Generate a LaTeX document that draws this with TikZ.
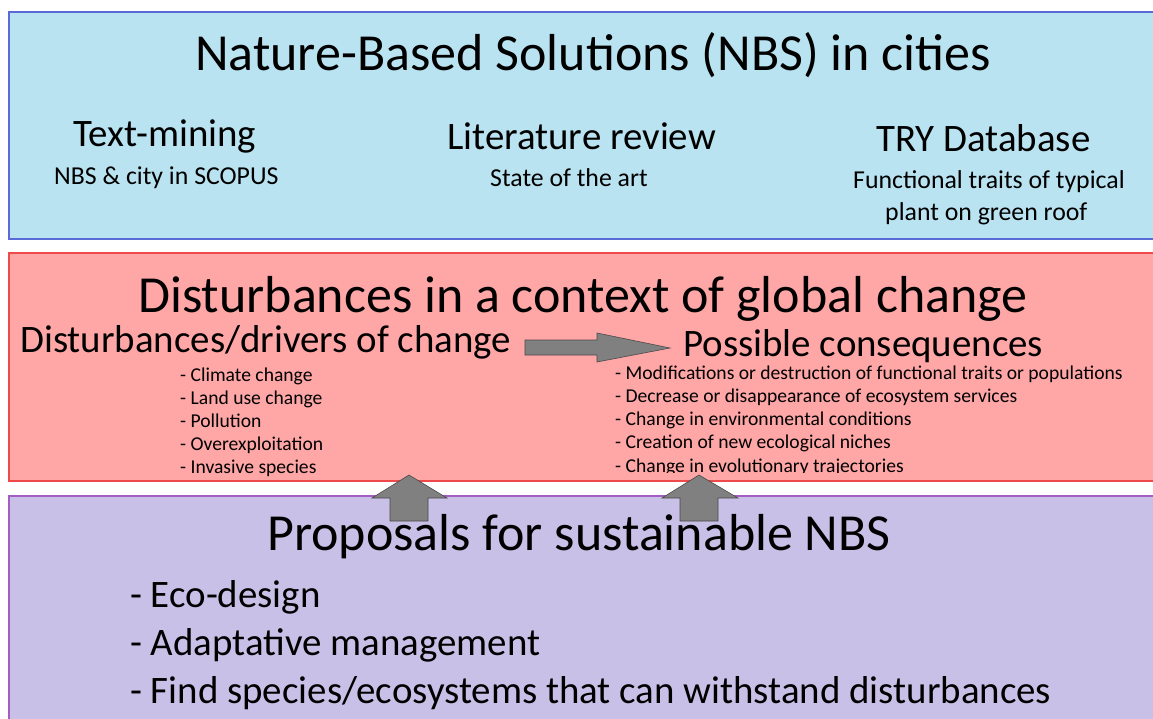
\documentclass[tikz,border=0pt]{standalone}
\usepackage{fontspec}
\setmainfont{Carlito}
\definecolor{bluefill}{HTML}{B9E3F0}
\definecolor{blueline}{HTML}{5A6BD8}
\definecolor{redfill}{HTML}{FFA6A6}
\definecolor{redline}{HTML}{EE4A4A}
\definecolor{purfill}{HTML}{C8C0E6}
\definecolor{purline}{HTML}{A45DC3}
\definecolor{arrfill}{HTML}{808080}
\definecolor{arrline}{HTML}{4A4A4A}
\newcommand{\fsz}[1]{\fontsize{#1}{#1}\selectfont}
\tikzset{
  panel/.style={line width=1.4pt},
  big/.style={inner sep=0pt, anchor=base west, font=\fsz{52}},
  mid/.style={inner sep=0pt, anchor=base west, font=\fsz{38.9}},
  sub/.style={inner sep=0pt, anchor=base west, font=\fsz{25.8}},
  small/.style={inner sep=0pt, anchor=base west, font=\fsz{19.6}},
  blockarrow/.style={fill=arrfill, draw=arrline, line width=0.6pt, line join=miter}
}
\begin{document}
\begin{tikzpicture}[x=1pt,y=-1pt]
\useasboundingbox (0,0) rectangle (1153,719);
\clip (0,0) rectangle (1153,719);
\fill[white] (0,0) rectangle (1153,719);
% panels
\draw[panel, fill=bluefill, draw=blueline] (9,12) rectangle (1165,239);
\draw[panel, fill=redfill, draw=redline] (9,253) rectangle (1165,481);
\draw[panel, fill=purfill, draw=purline] (9,496) rectangle (1165,730);
% top panel
\node[big] (t1) at (195,71) {Nature-Based Solutions (NBS) in cities};
\node[mid] (tm) at (73,147) {Text-mining};
\node[sub] (tms) at (54,185) {NBS \& city in SCOPUS};
\node[mid] (lr) at (447,150) {Literature review};
\node[sub] (lrs) at (490,187) {State of the art};
\node[mid] (try) at (876,152) {TRY Database};
\node[sub] (trys1) at (853,189) {Functional traits of typical};
\node[sub] (trys2) at (885,221) {plant on green roof};
% middle panel
\node[big] (t2) at (138,312) {Disturbances in a context of global change};
\node[mid] (drv) at (20,352) {Disturbances/drivers of change};
\node[mid] (cons) at (683,356) {Possible consequences};
\node[small] (d1) at (180,381) {- Climate change};
\node[small] (d2) at (180,404) {- Land use change};
\node[small] (d3) at (180,427) {- Pollution};
\node[small] (d4) at (180,450) {- Overexploitation};
\node[small] (d5) at (180,473) {- Invasive species};
\begin{scope}
\clip (600,355) rectangle (1153,472.5);
\node[small] (c1) at (615,379) {- Modifications or destruction of functional traits or populations};
\node[small] (c2) at (615,402) {- Decrease or disappearance of ecosystem services};
\node[small] (c3) at (615,425) {- Change in environmental conditions};
\node[small] (c4) at (615,448) {- Creation of new ecological niches};
\node[small] (c5) at (615,472) {- Change in evolutionary trajectories};
\end{scope}
% bottom panel
\node[big] (t3) at (267,550) {Proposals for sustainable NBS};
\node[mid] (p1) at (130,607) {- Eco-design};
\node[mid] (p2) at (130,655) {- Adaptative management};
\node[mid] (p3) at (130,703) {- Find species/ecosystems that can withstand disturbances};
% block arrows
\draw[blockarrow] (525,340) -- (597,340) -- (597,333) -- (670,348) -- (597,362) -- (597,355) -- (525,355) -- cycle;
\draw[blockarrow] (390,521) -- (390,498) -- (372,498) -- (409,475) -- (447,498) -- (428,498) -- (428,521) -- cycle;
\draw[blockarrow] (680,521) -- (680,498) -- (662,498) -- (699,475) -- (738,498) -- (718,498) -- (718,521) -- cycle;
\end{tikzpicture}
\end{document}
